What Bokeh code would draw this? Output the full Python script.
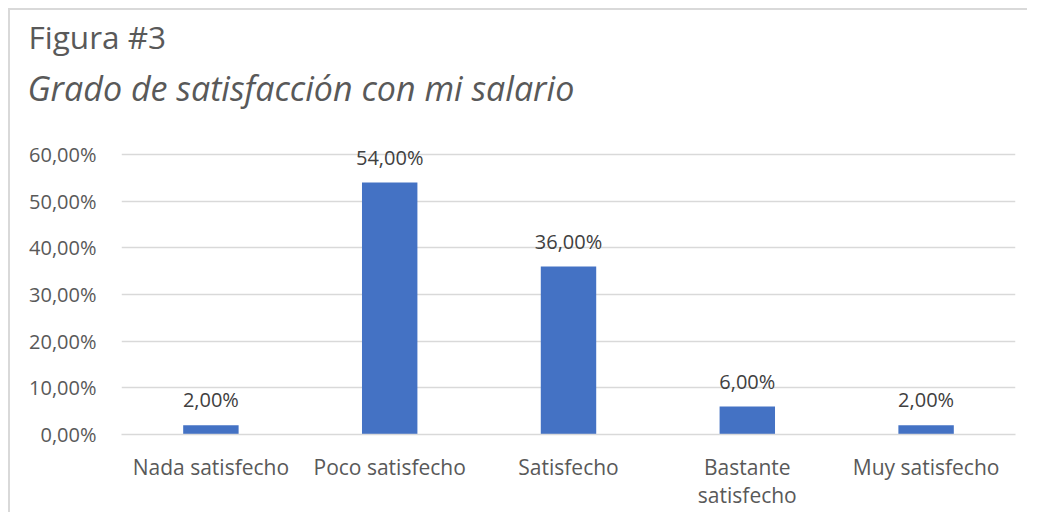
from bokeh.plotting import figure
from bokeh.models import (ColumnDataSource, FixedTicker, CustomJSTickFormatter,
                          LabelSet, Title)
from bokeh.core.properties import value
from bokeh.embed import file_html
from bokeh.resources import INLINE

# ---- data ----
categories = ["Nada satisfecho", "Poco satisfecho", "Satisfecho",
              "Bastante\nsatisfecho", "Muy satisfecho"]
values = [2.0, 54.0, 36.0, 6.0, 2.0]
value_labels = ["2,00%", "54,00%", "36,00%", "6,00%", "2,00%"]
y_ticks = [0, 10, 20, 30, 40, 50, 60]
title_main = "Figura #3"
title_sub = "Grado de satisfacción con mi salario"

FONT = "Open Sans"
TXT = "#595959"
BAR = "#4472C4"
GRID = "#d9d9d9"

W, H = 1019, 504

src = ColumnDataSource(dict(cat=categories, val=values, lab=value_labels))

p = figure(x_range=categories, y_range=(0, 64.5), width=W, height=H,
           output_backend="svg", toolbar_location=None, tools="", title=None,
           min_border_left=111, min_border_right=14,
           min_border_top=123, min_border_bottom=80)
p.styles = {"border-top": "2px solid #d9d9d9", "border-left": "2px solid #d9d9d9",
            "margin-top": "8px", "margin-left": "8px"}

p.vbar(x="cat", top="val", width=0.31, source=src, color=BAR, line_color=None)

p.add_layout(LabelSet(x="cat", y="val", text="lab", source=src,
                      text_align="center", text_baseline="alphabetic", y_offset=18,
                      text_font=value(FONT), text_font_size="20px",
                      text_color="#404040"))

p.outline_line_color = None
p.background_fill_color = "white"
p.border_fill_color = "white"

p.xgrid.grid_line_color = None
p.ygrid.grid_line_color = GRID
p.ygrid.grid_line_width = 1.3

p.yaxis.ticker = FixedTicker(ticks=y_ticks)
p.yaxis.formatter = CustomJSTickFormatter(
    code="return tick.toFixed(2).replace('.', ',') + '%';")
p.yaxis.axis_line_color = None
p.yaxis.major_tick_line_color = None
p.yaxis.minor_tick_line_color = None
p.yaxis.major_label_text_font = FONT
p.yaxis.major_label_text_font_size = "20px"
p.yaxis.major_label_text_color = TXT
p.yaxis.major_label_standoff = 19

p.xaxis.axis_line_color = GRID
p.xaxis.axis_line_width = 1.3
p.xaxis.major_tick_line_color = None
p.xaxis.minor_tick_line_color = None
p.xaxis.major_label_text_font = FONT
p.xaxis.major_label_text_font_size = "21px"
p.xaxis.major_label_text_color = TXT
p.xaxis.major_label_text_line_height = 1.0
p.xaxis.major_label_standoff = 12
p.x_range.range_padding = 0

sub = Title(text=title_sub, align="left", offset=-94, standoff=45,
            text_font=FONT, text_font_size="34px", text_font_style="italic",
            text_color=TXT)
p.add_layout(sub, "above")
main = Title(text=title_main, align="left", offset=-93, standoff=-34,
             text_font=FONT, text_font_size="31.5px", text_font_style="normal",
             text_color=TXT)
p.add_layout(main, "above")

open("out.html", "w").write(file_html(p, INLINE))
